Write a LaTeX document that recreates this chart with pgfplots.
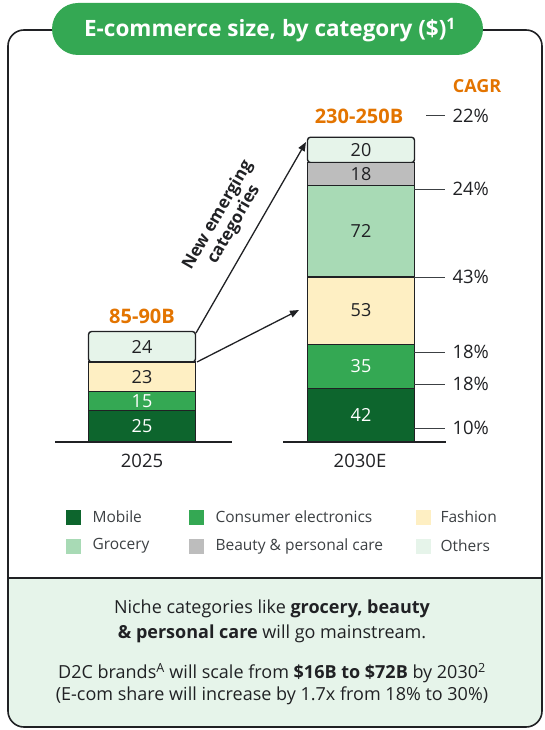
\documentclass[border=0pt]{standalone}
\usepackage{pgfplots}
\pgfplotsset{compat=1.18}
\usepackage{fontspec}
\setmainfont{Open Sans}
\usetikzlibrary{arrows.meta}

\definecolor{cMob}{HTML}{0D652D}
\definecolor{cCE}{HTML}{34A853}
\definecolor{cFas}{HTML}{FEEFC3}
\definecolor{cGro}{HTML}{A8DAB5}
\definecolor{cBea}{HTML}{BDBDBD}
\definecolor{cOth}{HTML}{E6F4EA}
\definecolor{txt}{HTML}{202124}
\definecolor{org}{HTML}{E37400}
\definecolor{gry}{HTML}{3C4043}
\newcommand\fs[2]{\fontsize{#1}{#2}\selectfont}

\begin{document}
\begin{tikzpicture}[x=1pt,y=-1pt]
\useasboundingbox (0,0) rectangle (544,730);

% bottom panel
\fill[cOth, rounded corners=16pt] (8,578) rectangle (542,727);
\fill[cOth] (8,578) rectangle (542,600);
\draw[txt, line width=1.6pt] (8,578) -- (542,578);
% frame
\draw[txt, line width=1.6pt, rounded corners=16pt] (60,30) -- (8,30) -- (8,727) -- (542,727) -- (542,30) -- (470,30);
% title pill
\fill[cCE, rounded corners=26pt] (52,3) rectangle (483,55);
\node[text=white, font=\fs{22.5}{25}\bfseries] at (270,30) {E-commerce size, by category (\$)\textsuperscript{1}};

% 1.27pt per unit on the y axis
\begin{axis}[
  at={(32.5pt,-442pt)}, anchor=south west,
  scale only axis, width=438pt, height=317.5pt,
  xmin=-0.5, xmax=1.5, ymin=0, ymax=250,
  axis lines=none, clip=false,
  ybar stacked, bar width=107pt,
  every axis plot/.append style={draw=txt, line width=1.4pt},
  nodes near coords,
  point meta=explicit symbolic,
  every node near coord/.append style={text=txt, font=\fs{18}{18}},
]
\addplot[fill=cMob, every node near coord/.append style={text=white}] coordinates {(0,25)[25] (1,42)[42]};
\addplot[fill=cCE, every node near coord/.append style={text=white}] coordinates {(0,15)[15] (1,35)[35]};
\addplot[fill=cFas] coordinates {(0,23)[23] (1,53)[53]};
\addplot[fill=cGro] coordinates {(0,0)[{}] (1,72)[72]};
\addplot[fill=cBea] coordinates {(0,0)[{}] (1,18)[18]};
\addplot[fill=cOth, rounded corners=3pt] coordinates {(0,24)[24] (1,20)[20]};
\end{axis}

% baselines
\draw[txt, line width=1.6pt] (55,442) -- (232,442);
\draw[txt, line width=1.6pt] (283,442) -- (446,442);
\node[text=txt, font=\fs{18.5}{18}] at (142,461) {2025};
\node[text=txt, font=\fs{18.5}{18}] at (360,461) {2030E};

% totals
\node[text=org, font=\fs{20}{20}\bfseries] at (142,316) {85-90B};
\node[text=org, font=\fs{20}{20}\bfseries] at (359,116) {230-250B};

% arrows
\draw[txt, line width=1.3pt, -{Triangle[length=9pt,width=7pt]}] (196,333) -- (306,142);
\draw[txt, line width=1.3pt, -{Triangle[length=9pt,width=7pt]}] (197,362) -- (299,310);
\node[text=txt, font=\fs{17}{18.5}\bfseries, align=center, rotate=60] at (226,220) {New emerging\\categories};

% CAGR
\node[text=org, font=\fs{18}{18}\bfseries] at (477,86) {CAGR};
\begin{scope}[gry, line width=1pt]
\draw (426,116) -- (445,116);
\draw (414,189) -- (445,189);
\draw (414,277) -- (445,277);
\draw (414,352) -- (445,352);
\draw (414,384) -- (445,384);
\draw (414,428) -- (445,428);
\end{scope}
\begin{scope}[every node/.style={text=txt, font=\fs{18.5}{18}, anchor=west}]
\node at (449,116) {22\%};
\node at (449,189) {24\%};
\node at (449,277) {43\%};
\node at (449,352) {18\%};
\node at (449,384) {18\%};
\node at (449,428) {10\%};
\end{scope}

% legend
\begin{scope}[every node/.style={text=gry, font=\fs{15.5}{15}, anchor=west}]
\fill[cMob] (66,510) rectangle (81,525); \node at (89,517) {Mobile};
\fill[cCE] (189,510) rectangle (204,525); \node at (212,517) {Consumer electronics};
\fill[cFas] (416,510) rectangle (431,525); \node at (437,517) {Fashion};
\fill[cGro] (66,539) rectangle (81,554); \node at (89,546) {Grocery};
\fill[cBea] (189,539) rectangle (204,554); \node at (212,546) {Beauty \& personal care};
\fill[cOth] (416,539) rectangle (431,554); \node at (437,546) {Others};
\end{scope}

% bottom text
\begin{scope}[every node/.style={text=txt, font=\fs{18}{18}}]
\node at (272,609) {Niche categories like \textbf{grocery, beauty}};
\node at (272,634) {\textbf{\& personal care} will go mainstream.};
\node at (272,673) {D2C brands\textsuperscript{A} will scale from \textbf{\$16B to \$72B} by 2030\textsuperscript{2}};
\node at (272,696) {(E-com share will increase by 1.7x from 18\% to 30\%)};
\end{scope}
\end{tikzpicture}
\end{document}
